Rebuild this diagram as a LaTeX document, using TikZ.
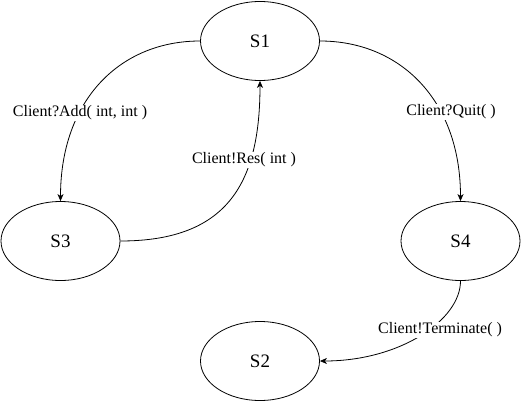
\documentclass[tikz,border=0pt]{standalone}
\usepackage{fontspec}
\setmainfont{Liberation Serif}
\usetikzlibrary{shapes.geometric,arrows.meta}
\begin{document}
\begin{tikzpicture}[x=1pt,y=-1pt,
  state/.style={draw,ellipse,line width=0.8pt,minimum width=119pt,minimum height=79pt,inner sep=0pt,font=\fontsize{19}{22}\selectfont},
  lbl/.style={fill=white,inner sep=1pt,font=\fontsize{16}{18}\selectfont},
  edge/.style={line width=0.8pt,-{Stealth[length=7pt,width=6pt,inset=2pt]}}]
\useasboundingbox (0,0) rectangle (521,401);
\node[state] (s1) at (260,41) {S1};
\node[state] (s3) at (60.5,241) {S3};
\node[state] (s4) at (460.5,241) {S4};
\node[state] (s2) at (260,361) {S2};
\draw[edge] (s1.west) .. controls (120,41) and (60.5,100) .. (s3.north);
\draw[edge] (s3.east) .. controls (230,241) and (260,180) .. (s1.south);
\draw[edge] (s1.east) .. controls (400,41) and (460.5,100) .. (s4.north);
\draw[edge] (s4.south) .. controls (460.5,320) and (400,361) .. (s2.east);
\node[lbl] (l1) at (80,113) {Client?Add( int, int )};
\node[lbl] (l2) at (244,160) {Client!Res( int )};
\node[lbl] (l3) at (451,112) {Client?Quit( )};
\node[lbl] (l4) at (440,330) {Client!Terminate( )};
\end{tikzpicture}
\end{document}
